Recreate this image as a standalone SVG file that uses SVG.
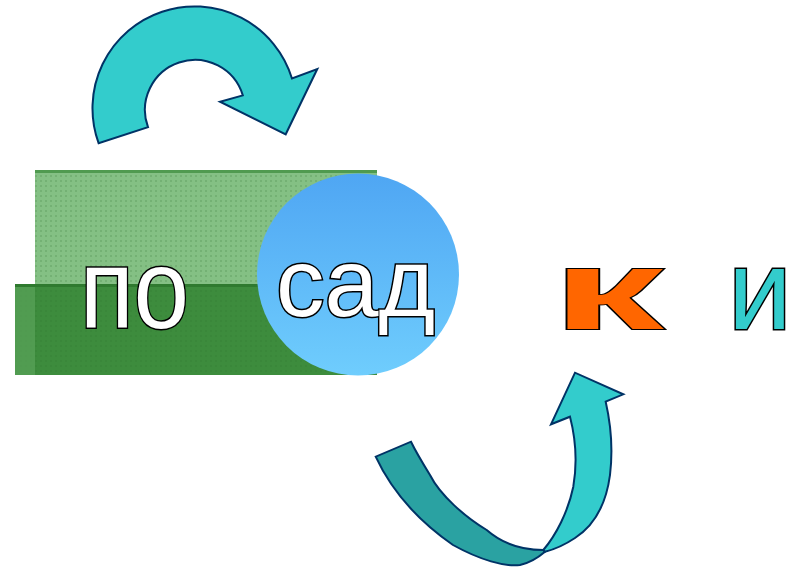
<svg xmlns="http://www.w3.org/2000/svg" width="798" height="567" viewBox="0 0 798 567">
<style>
.arrow{stroke:#003366;stroke-width:2;stroke-linejoin:miter}
.word{font-family:"Liberation Sans",Arial,sans-serif;stroke:#000;stroke-width:3;paint-order:stroke;}
</style>
<defs>
<linearGradient id="sky" x1="0" y1="0" x2="0" y2="1">
<stop offset="0" stop-color="#4fa6f3"/>
<stop offset="1" stop-color="#6fcdfd"/>
</linearGradient>
<pattern id="grid" width="5" height="5" patternUnits="userSpaceOnUse">
<rect x="0" y="0" width="2" height="2" fill="#2e6e2e" fill-opacity="0.18"/>
</pattern>
</defs>
<rect width="798" height="567" fill="#fff"/>

<g id="green-block">
<rect x="35" y="170" width="342" height="115" fill="#84c084"/>
<rect x="35" y="170" width="342" height="115" fill="url(#grid)"/>
<rect x="35" y="170" width="342" height="3" fill="#4f9a4f"/>
<rect x="15" y="285" width="362" height="90" fill="#3d8c3d"/>
<rect x="15" y="285" width="362" height="90" fill="url(#grid)"/>
<rect x="15" y="285" width="20" height="90" fill="#5aa25a" fill-opacity="0.7"/>
<rect x="15" y="284" width="362" height="3" fill="#2f7a2f"/>
<text class="word" transform="translate(80,328) scale(0.87,1)" x="0" y="0" font-size="114" fill="#fff">по</text>
</g>

<g id="circle-node">
<circle cx="358" cy="274.5" r="101" fill="url(#sky)"/>
<text class="word" x="276" y="316" font-size="97" fill="#fff">сад</text>
</g>

<g id="letter-k">
<text class="word" transform="translate(552,329) scale(1.96,1)" x="0" y="0" font-size="114" font-weight="bold" fill="#ff6600" style="stroke-width:2">к</text>
</g>

<g id="letter-i">
<text class="word" x="728" y="329" font-size="114" fill="#33cccc">и</text>
</g>

<g id="connectors">
<path id="arrow-top" class="arrow" fill="#33cccc" d="M98.6 143.2 A102 102 0 1 1 292 78.5 L317.3 69 L285.7 134.3 L220 101.7 L242.8 95.4 A50 50 0 1 0 148 127.1 Z"/>
<path id="arrow-bottom-back" class="arrow" fill="#2aa2a2" d="M375.7 456.7 C392 492 420 522 453 545 C480 560 505 567 520 565 C533 562 540 556 545 551.7 L543.3 550 C525 550 505 546 486.7 530 C465 517 440 495 430 475 C422 462 416 452 411 441.7 Z"/>
<path id="arrow-bottom-front" class="arrow" fill="#33cccc" d="M543.3 550 C556 535 568 512 573.3 486.7 C577 465 576 440 570 416.7 L551 424.3 L575 372.7 L623.3 394.3 L605.7 401.7 C611 425 613 450 610 475 C606 505 595 525 575 538 C563 546 552 550 545 551.7 Z"/>
</g>
</svg>
